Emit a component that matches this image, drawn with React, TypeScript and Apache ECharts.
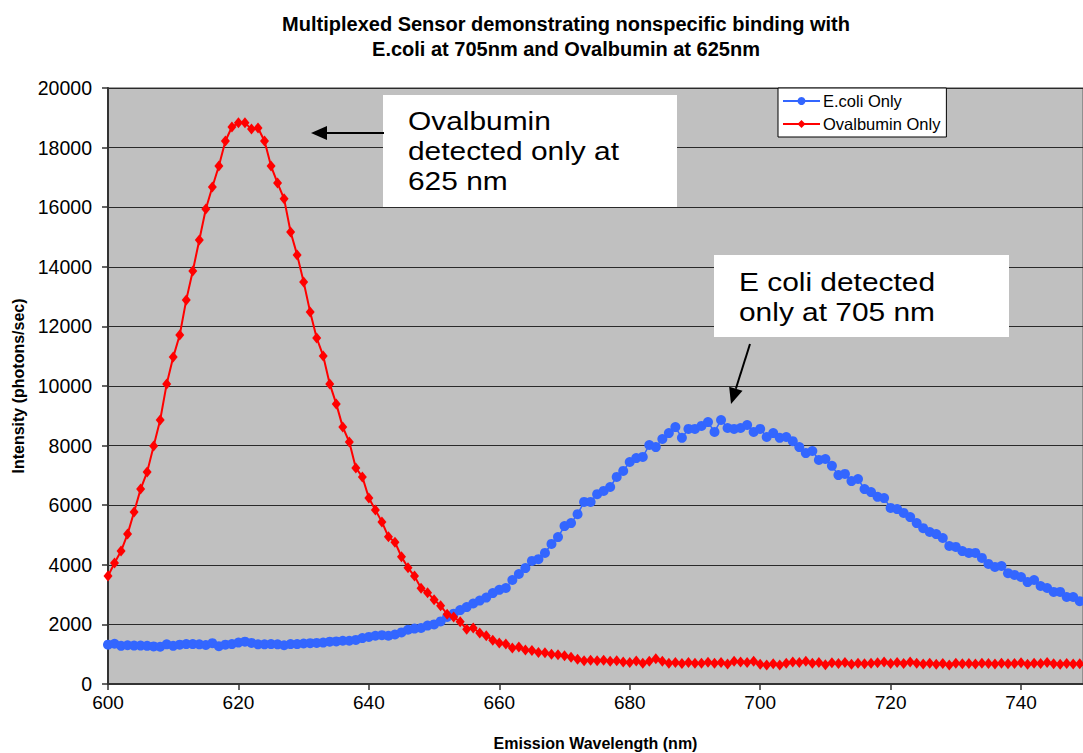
import React, { useEffect, useRef } from "react";
import * as echarts from "echarts";

const TITLE_LINES = [
  "Multiplexed Sensor demonstrating nonspecific binding with",
  "E.coli at 705nm and Ovalbumin at 625nm",
];
const X_TITLE = "Emission Wavelength (nm)";
const Y_TITLE = "Intensity (photons/sec)";
const SERIES_NAMES = ["E.coli Only", "Ovalbumin Only"];

const WL_FIRST = 600;
const WL_LAST = 749;
const wavelengths: number[] = Array.from({ length: WL_LAST - WL_FIRST + 1 }, (_, i) => WL_FIRST + i);

const ecoli: number[] = [
  1320, 1350, 1280, 1300, 1290, 1290, 1280, 1260, 1250, 1330,
  1280, 1320, 1340, 1340, 1330, 1310, 1370, 1270, 1320, 1340,
  1390, 1420, 1380, 1330, 1330, 1340, 1330, 1300, 1340, 1340,
  1360, 1370, 1380, 1390, 1420, 1430, 1450, 1450, 1480, 1540,
  1580, 1620, 1640, 1620, 1660, 1730, 1820, 1860, 1880, 1960,
  2000, 2100, 2250, 2360, 2480, 2580, 2700, 2800, 2900, 3050,
  3160, 3220, 3490, 3690, 3890, 4130, 4190, 4400, 4700, 4930,
  5300, 5400, 5700, 6110, 6110, 6370, 6480, 6610, 6950, 7150,
  7450, 7580, 7620, 8020, 7950, 8220, 8420, 8620, 8260, 8560,
  8560, 8660, 8790, 8460, 8860, 8590, 8560, 8590, 8690, 8460,
  8560, 8290, 8420, 8260, 8290, 8150, 7950, 7750, 7820, 7520,
  7550, 7320, 7010, 7050, 6810, 6880, 6540, 6440, 6280, 6240,
  5910, 5870, 5740, 5600, 5400, 5230, 5100, 5030, 4900, 4630,
  4600, 4460, 4400, 4400, 4230, 4030, 3930, 3960, 3720, 3660,
  3590, 3420, 3490, 3290, 3220, 3090, 3090, 2920, 2920, 2780,
];

const ovalbumin: number[] = [
  3620, 4060, 4460, 5030, 5770, 6540, 7110, 7990, 8860, 10070,
  10970, 11710, 12890, 13860, 14900, 15940, 16680, 17380, 18220, 18690,
  18830, 18830, 18620, 18660, 18220, 17380, 16810, 16280, 15170, 14400,
  13490, 12480, 11610, 11010, 10070, 9400, 8620, 8120, 7250, 6950,
  6240, 5840, 5440, 4940, 4760, 4270, 3900, 3620, 3210, 3060,
  2830, 2630, 2340, 2250, 2090, 1840, 1880, 1710, 1620, 1470,
  1380, 1340, 1210, 1240, 1140, 1120, 1060, 1050, 1000, 980,
  950, 900, 830, 780, 800, 780, 800, 760, 780, 740,
  720, 770, 700, 760, 850, 760, 700, 720, 690, 720,
  700, 700, 730, 700, 720, 670, 760, 740, 720, 760,
  660, 640, 680, 640, 700, 740, 720, 760, 700, 720,
  650, 710, 690, 720, 660, 700, 680, 700, 710, 740,
  690, 720, 690, 740, 700, 670, 700, 660, 690, 640,
  700, 680, 690, 670, 700, 690, 670, 700, 680, 690,
  710, 660, 700, 690, 720, 680, 660, 690, 670, 680,
];

const ANNOTATION_1 = "Ovalbumin\ndetected only at\n625 nm";
const ANNOTATION_2 = "E coli detected\nonly at 705 nm";

const FONT = "'Liberation Sans', Arial, sans-serif";

export default function App() {
  const ref = useRef<HTMLDivElement>(null);

  useEffect(() => {
    if (!ref.current) return;
    const chart = echarts.init(ref.current, undefined, { renderer: "svg" });

    const pairs = (ys: number[]) => wavelengths.map((x, i) => [x, ys[i]]);

    const arrowHead = (tipX: number, tipY: number, fromX: number, fromY: number) => {
      const dx = tipX - fromX;
      const dy = tipY - fromY;
      const len = Math.sqrt(dx * dx + dy * dy);
      const ux = dx / len;
      const uy = dy / len;
      const hl = 16;
      const hw = 7;
      const bx = tipX - ux * hl;
      const by = tipY - uy * hl;
      return {
        base: [bx, by],
        points: [
          [tipX, tipY],
          [bx - uy * hw, by + ux * hw],
          [bx + uy * hw, by - ux * hw],
        ],
      };
    };

    const a1 = arrowHead(311, 133, 384, 133);
    const a2 = arrowHead(731, 404, 750, 344);

    chart.setOption({
      animation: false,
      backgroundColor: "#ffffff",
      textStyle: { fontFamily: FONT },
      grid: {
        left: 108,
        top: 88,
        right: 0,
        bottom: 69,
        containLabel: false,
        outerBoundsMode: "none",
        show: true,
        backgroundColor: "#C0C0C0",
        borderColor: "#808080",
        borderWidth: 1.5,
      },
      legend: {
        left: 778,
        top: 88,
        orient: "vertical",
        backgroundColor: "#ffffff",
        borderColor: "#000000",
        borderWidth: 1,
        borderRadius: 0,
        padding: [4, 6, 4, 4],
        itemGap: 5,
        itemWidth: 37,
        itemHeight: 10,
        textStyle: { fontFamily: FONT, fontSize: 16.5, color: "#000", lineHeight: 18, padding: [0, 0, 0, -2] },
        data: SERIES_NAMES,
      },
      xAxis: {
        type: "value",
        min: 600,
        max: 749.5,
        interval: 20,
        name: X_TITLE,
        nameLocation: "middle",
        nameGap: 51,
        nameTextStyle: { fontFamily: FONT, fontSize: 16, fontWeight: "bold", color: "#000" },
        axisLine: { show: true, lineStyle: { color: "#333", width: 2 } },
        axisTick: { show: true, length: 6, lineStyle: { color: "#333", width: 1.5 } },
        axisLabel: { fontFamily: FONT, fontSize: 19, color: "#000", margin: 9, showMaxLabel: false },
        splitLine: { show: false },
      },
      yAxis: {
        type: "value",
        min: 0,
        max: 20000,
        interval: 2000,
        name: Y_TITLE,
        nameLocation: "middle",
        nameRotate: 90,
        nameGap: 82,
        nameTextStyle: { fontFamily: FONT, fontSize: 16, fontWeight: "bold", color: "#000" },
        axisLine: { show: true, lineStyle: { color: "#333", width: 2 } },
        axisTick: { show: true, length: 6, lineStyle: { color: "#333", width: 1.5 } },
        axisLabel: {
          fontFamily: FONT,
          fontSize: 19.5,
          color: "#000",
          margin: 16,
          formatter: (v: number) => String(v),
        },
        splitLine: { show: true, lineStyle: { color: "#2a2a2a", width: 1.2 } },
      },
      series: [
        {
          name: SERIES_NAMES[0],
          type: "line",
          data: pairs(ecoli),
          symbol: "circle",
          symbolSize: 10,
          showAllSymbol: true,
          itemStyle: { color: "#3366FF" },
          lineStyle: { color: "#3366FF", width: 1.5 },
          z: 2,
        },
        {
          name: SERIES_NAMES[1],
          type: "line",
          data: pairs(ovalbumin),
          symbol: "diamond",
          symbolSize: [9, 11],
          showAllSymbol: true,
          itemStyle: { color: "#FF0000" },
          lineStyle: { color: "#FF0000", width: 2 },
          z: 3,
        },
      ],
      graphic: [
        {
          type: "text",
          x: 566,
          y: 11,
          z: 10,
          style: {
            text: TITLE_LINES.join("\n"),
            font: `bold 20px ${FONT}`,
            fill: "#000",
            textAlign: "center",
            lineHeight: 25,
          },
        },
        {
          type: "rect",
          z: 10,
          shape: { x: 383, y: 95, width: 294, height: 112 },
          style: { fill: "#ffffff" },
        },
        {
          type: "text",
          z: 11,
          x: 408,
          y: 106,
          scaleX: 1.15,
          style: {
            text: ANNOTATION_1,
            font: `26px ${FONT}`,
            fill: "#000",
            lineHeight: 30,
          },
        },
        {
          type: "rect",
          z: 10,
          shape: { x: 714, y: 255, width: 295, height: 82 },
          style: { fill: "#ffffff" },
        },
        {
          type: "text",
          z: 11,
          x: 739,
          y: 267,
          scaleX: 1.15,
          style: {
            text: ANNOTATION_2,
            font: `26px ${FONT}`,
            fill: "#000",
            lineHeight: 30,
          },
        },
        {
          type: "line",
          z: 11,
          shape: { x1: 384, y1: 133, x2: a1.base[0], y2: a1.base[1] },
          style: { stroke: "#000", lineWidth: 2 },
        },
        {
          type: "polygon",
          z: 11,
          shape: { points: a1.points },
          style: { fill: "#000" },
        },
        {
          type: "line",
          z: 11,
          shape: { x1: 750, y1: 344, x2: a2.base[0], y2: a2.base[1] },
          style: { stroke: "#000", lineWidth: 2 },
        },
        {
          type: "polygon",
          z: 11,
          shape: { points: a2.points },
          style: { fill: "#000" },
        },
      ],
    });

    return () => chart.dispose();
  }, []);

  return <div ref={ref} style={{ width: 1083, height: 753, position: "absolute", left: 0, top: 0 }} />;
}
